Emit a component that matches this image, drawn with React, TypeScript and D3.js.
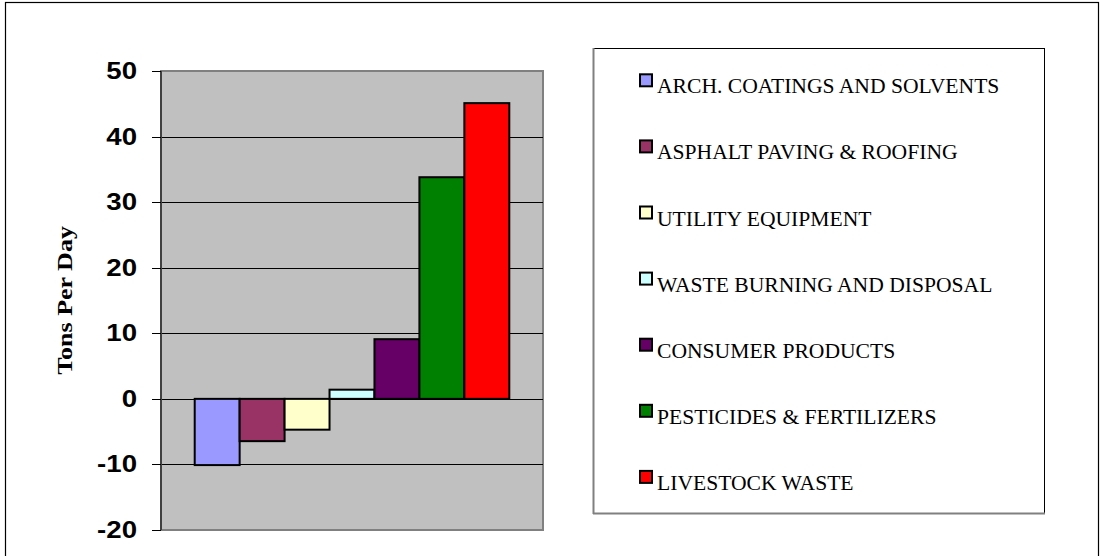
import React, { useEffect, useRef } from "react";
import * as d3 from "d3";

const seriesNames = [
  "ARCH. COATINGS AND SOLVENTS",
  "ASPHALT PAVING & ROOFING",
  "UTILITY EQUIPMENT",
  "WASTE BURNING AND DISPOSAL",
  "CONSUMER PRODUCTS",
  "PESTICIDES & FERTILIZERS",
  "LIVESTOCK WASTE",
];
const seriesValues = [-10.1, -6.45, -4.7, 1.4, 9.1, 33.8, 45.1];
const seriesColors = ["#9999FF", "#993366", "#FFFFCC", "#CCFFFF", "#660066", "#008000", "#FF0000"];
const yTicks = [-20, -10, 0, 10, 20, 30, 40, 50];
const yTitle = "Tons Per Day";

export default function App() {
  const ref = useRef<SVGSVGElement>(null);

  useEffect(() => {
    const svg = d3.select(ref.current);
    svg.selectAll("*").remove();

    const plotL = 161, plotR = 543, plotT = 71, plotB = 530;

    // outer border
    svg.append("rect").attr("x", 5.5).attr("y", 2.5).attr("width", 1093).attr("height", 600)
      .attr("fill", "#fff").attr("stroke", "#000").attr("stroke-width", 1.2);

    const y = d3.scaleLinear().domain([-20, 50]).range([plotB, plotT]);
    const x = d3.scaleBand<string>().domain(seriesNames).range([plotL, plotR])
      .paddingInner(0).paddingOuter(0.75);

    // plot area
    svg.append("rect").attr("x", plotL).attr("y", plotT).attr("width", plotR - plotL).attr("height", plotB - plotT)
      .attr("fill", "#C0C0C0").attr("stroke", "#808080").attr("stroke-width", 2);

    // gridlines
    svg.append("g").selectAll("line").data(yTicks.filter(t => t !== -20 && t !== 50)).join("line")
      .attr("x1", plotL).attr("x2", plotR)
      .attr("y1", d => Math.round(y(d)) + 0.5).attr("y2", d => Math.round(y(d)) + 0.5)
      .attr("stroke", "#000").attr("stroke-width", 1);

    // axis line and ticks
    svg.append("line").attr("x1", plotL).attr("x2", plotL).attr("y1", plotT).attr("y2", plotB)
      .attr("stroke", "#404040").attr("stroke-width", 2);
    svg.append("g").selectAll("line").data(yTicks).join("line")
      .attr("x1", 152).attr("x2", plotL)
      .attr("y1", d => Math.round(y(d)) + 0.5).attr("y2", d => Math.round(y(d)) + 0.5)
      .attr("stroke", "#000").attr("stroke-width", 1);

    // tick labels
    svg.append("g").selectAll("text").data(yTicks).join("text")
      .attr("transform", d => `translate(137,${y(d) + 8}) scale(1.2,1)`)
      .attr("text-anchor", "end")
      .attr("font-family", "Liberation Sans, Arial, sans-serif")
      .attr("font-weight", "bold").attr("font-size", 23)
      .attr("fill", "#000")
      .text(d => String(d));

    // y title
    svg.append("text")
      .attr("transform", `translate(72,${(plotT + plotB) / 2}) rotate(-90) scale(1,0.8)`)
      .attr("text-anchor", "middle")
      .attr("font-family", "Liberation Serif, Times New Roman, serif")
      .attr("font-weight", "bold").attr("font-size", 26)
      .attr("fill", "#000")
      .text(yTitle);

    // bars
    svg.append("g").selectAll("rect").data(seriesNames).join("rect")
      .attr("x", d => x(d)!)
      .attr("width", x.bandwidth())
      .attr("y", (d, i) => y(Math.max(0, seriesValues[i])))
      .attr("height", (d, i) => Math.abs(y(seriesValues[i]) - y(0)))
      .attr("fill", (d, i) => seriesColors[i])
      .attr("stroke", "#000").attr("stroke-width", 2);

    // legend
    const lx = 593, ly = 48, lw = 451, lh = 465;
    svg.append("rect").attr("x", lx + 0.5).attr("y", ly + 0.5).attr("width", lw).attr("height", lh)
      .attr("fill", "#fff").attr("stroke", "#000").attr("stroke-width", 1);
    svg.append("line").attr("x1", lx + 0.5).attr("x2", lx + 0.5).attr("y1", ly).attr("y2", ly + lh + 1)
      .attr("stroke", "#808080").attr("stroke-width", 2);
    svg.append("line").attr("x1", lx).attr("x2", lx + lw + 1).attr("y1", ly + lh + 0.5).attr("y2", ly + lh + 0.5)
      .attr("stroke", "#808080").attr("stroke-width", 2);

    const ly0 = 93.3, lstep = 66.1;
    const items = svg.append("g").selectAll("g").data(seriesNames).join("g")
      .attr("transform", (d, i) => `translate(0,${ly0 + i * lstep})`);
    items.append("rect").attr("x", 640).attr("y", -19).attr("width", 12).attr("height", 12)
      .attr("fill", (d, i) => seriesColors[i]).attr("stroke", "#000").attr("stroke-width", 2);
    items.append("text").attr("x", 657).attr("y", 0)
      .attr("font-family", "Liberation Serif, Times New Roman, serif")
      .attr("font-size", 21.6).attr("fill", "#000")
      .text(d => d);
  }, []);

  return (
    <svg ref={ref} width={1104} height={556}
      style={{ position: "absolute", left: 0, top: 0, display: "block", background: "#fff" }} />
  );
}
